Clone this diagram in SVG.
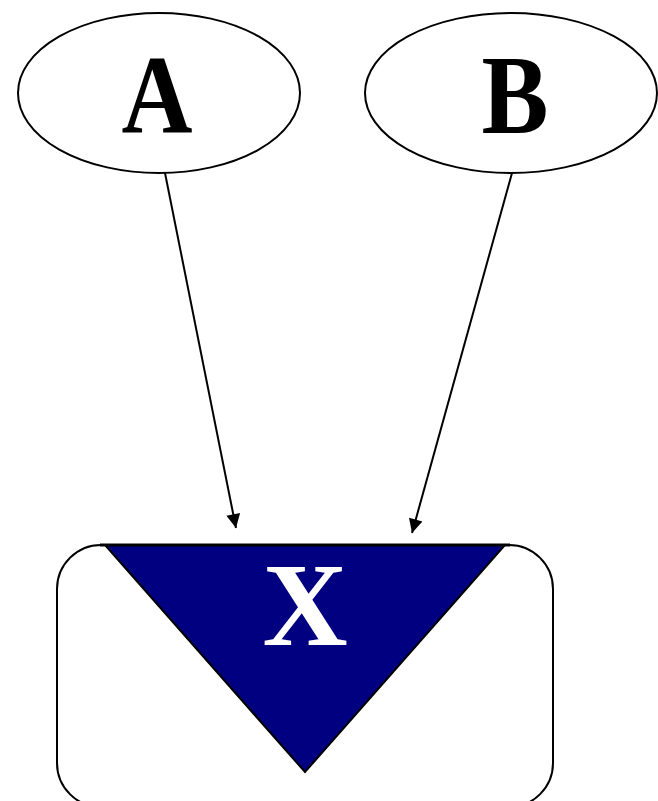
<svg xmlns="http://www.w3.org/2000/svg" width="658" height="801" viewBox="0 0 658 801">
  <style>
    .node-shape { fill: #ffffff; stroke: #000000; stroke-width: 2; }
    .label { font-family: "Liberation Serif", "Times New Roman", serif; font-weight: bold; text-anchor: middle; }
    .edge { fill: none; stroke: #000000; stroke-width: 2; marker-end: url(#arrow); }
  </style>
  <defs>
    <marker id="arrow" viewBox="0 0 10 10" refX="10" refY="5" markerWidth="8" markerHeight="7" markerUnits="strokeWidth" orient="auto">
      <path d="M0,0 L10,5 L0,10 Z" fill="#000000"/>
    </marker>
  </defs>
  <rect width="658" height="801" fill="#ffffff"/>

  <g id="edges">
    <line class="edge" x1="165" y1="173" x2="236" y2="528"/>
    <line class="edge" x1="512" y1="173" x2="412" y2="533"/>
  </g>

  <g id="node-A">
    <ellipse class="node-shape" cx="159" cy="93" rx="141" ry="80"/>
    <text class="label" x="157" y="133" font-size="112" fill="#000000" textLength="71" lengthAdjust="spacingAndGlyphs">A</text>
  </g>

  <g id="node-B">
    <ellipse class="node-shape" cx="511" cy="93" rx="146" ry="80"/>
    <text class="label" x="515" y="133" font-size="112" fill="#000000" textLength="67" lengthAdjust="spacingAndGlyphs">B</text>
  </g>

  <g id="node-X">
    <rect class="node-shape" x="57" y="545" width="496" height="262" rx="44" ry="44"/>
    <polygon points="105,545 505,545 305,772" fill="#000080" stroke="#000000" stroke-width="2" stroke-linejoin="miter"/>
    <line x1="100" y1="545" x2="510" y2="545" stroke="#000000" stroke-width="3"/>
    <text class="label" x="305" y="645" font-size="118" fill="#ffffff">X</text>
  </g>
</svg>
